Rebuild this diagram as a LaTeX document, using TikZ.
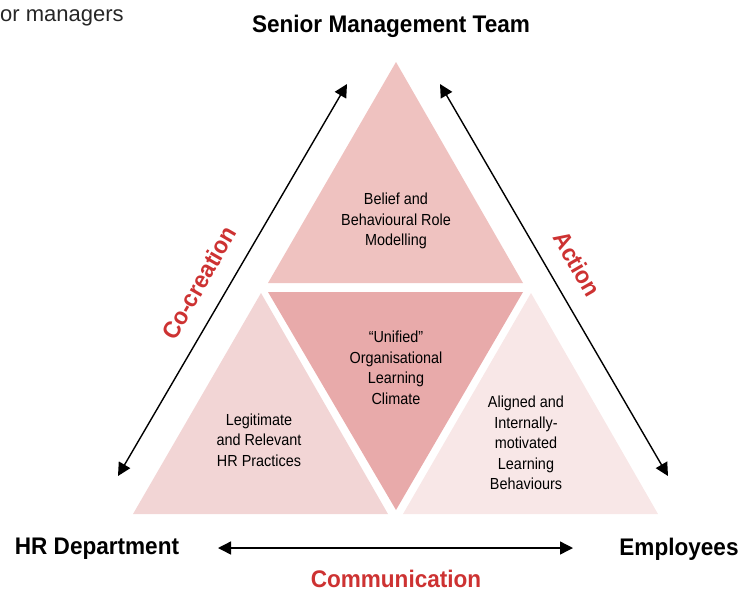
\documentclass[tikz,border=0pt]{standalone}
\usepackage{fontspec}
\setmainfont{Liberation Sans}
\newfontfamily\condfont[FakeStretch=0.9]{Liberation Sans}
\newfontfamily\headfont[FakeStretch=0.94]{Liberation Sans}
\usetikzlibrary{arrows.meta}

\definecolor{apexpink}{RGB}{239,194,192}
\definecolor{midpink}{RGB}{232,170,170}
\definecolor{leftpink}{RGB}{242,213,213}
\definecolor{rightpink}{RGB}{248,231,231}
\definecolor{labelred}{RGB}{205,50,50}

\tikzset{
  corner/.style={font=\headfont\bfseries\fontsize{24}{28}\selectfont, inner sep=0pt},
  relation/.style={font=\headfont\bfseries\fontsize{24}{28}\selectfont, text=labelred, inner sep=0pt},
  inner/.style={font=\condfont\fontsize{16}{20.5}\selectfont, align=center},
  link/.style={{Triangle[length=13pt,width=13pt]}-{Triangle[length=13pt,width=13pt]}, line width=1.4pt}
}

\begin{document}
\begin{tikzpicture}[x=1pt,y=-1pt]
\useasboundingbox (0,0) rectangle (739,590);

% caption tail
\node[anchor=west, font=\fontsize{22}{26}\selectfont, text=black!85, inner sep=0pt] (cap) at (0,18) {or managers};

% the four triangles
\fill[apexpink] (396,62) -- (523,283) -- (268,283) -- cycle;
\fill[midpink] (268,292) -- (523,292) -- (396,510) -- cycle;
\fill[leftpink] (261,293) -- (388,514) -- (133,514) -- cycle;
\fill[rightpink] (531,293) -- (658,514) -- (403,514) -- cycle;

\node[inner] (belief) at (396,221) {Belief and\\Behavioural Role\\Modelling};
\node[inner] (climate) at (396,368) {“Unified”\\Organisational\\Learning\\Climate};
\node[inner] (hr) at (259,440) {Legitimate\\and Relevant\\HR Practices};
\node[inner] (aligned) at (526,443) {Aligned and\\Internally-\\motivated\\Learning\\Behaviours};

% corners
\node[corner] (smt) at (391,26) {Senior Management Team};
\node[corner] (hrd) at (97,549) {HR Department};
\node[corner] (emp) at (679,549) {Employees};

% arrows between the corners
\coordinate (cl1) at (118,476);
\coordinate (cl2) at (347,84);
\coordinate (cr1) at (440,84);
\coordinate (cr2) at (668,476);
\coordinate (cb1) at (218,548);
\coordinate (cb2) at (573,548);
\draw[link] (cl1) -- (cl2);
\draw[link] (cr1) -- (cr2);
\draw[link] (cb1) -- (cb2);

\node[relation, rotate=60] (cocreation) at (199,283) {Co-creation};
\node[relation, rotate=-60] (action) at (577,264) {Action};
\node[relation] (comm) at (396,579) {Communication};
\end{tikzpicture}
\end{document}
